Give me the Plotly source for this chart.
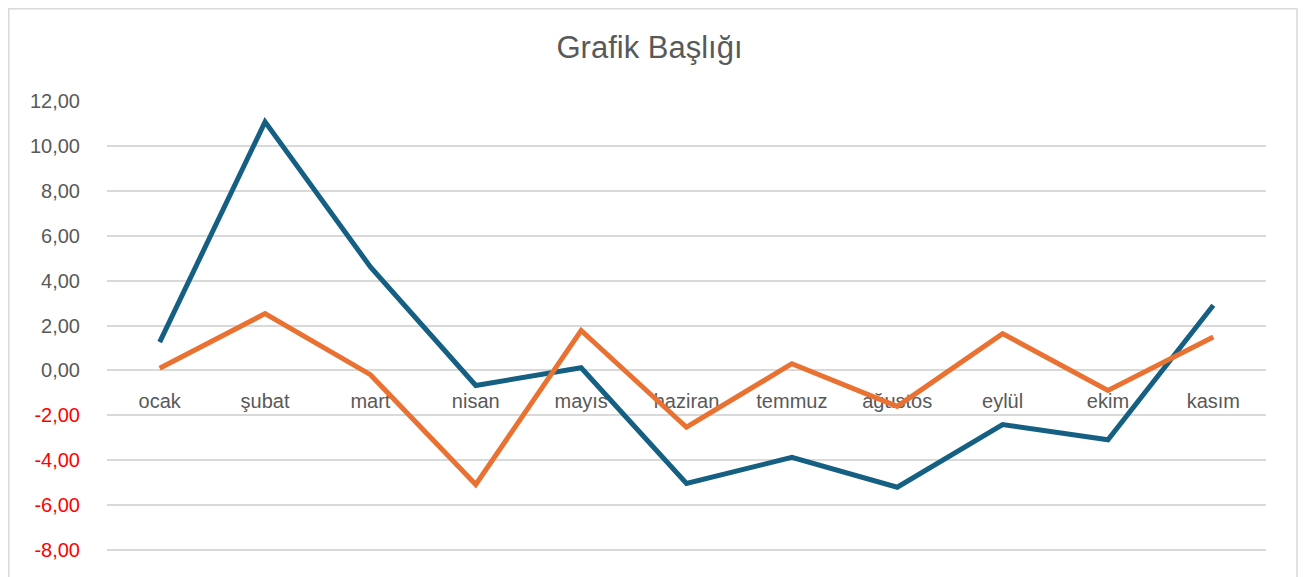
import plotly.graph_objects as go

categories = ["ocak", "şubat", "mart", "nisan", "mayıs", "haziran",
              "temmuz", "ağustos", "eylül", "ekim", "kasım"]
series_blue = [1.26, 11.07, 4.61, -0.67, 0.12, -5.03, -3.87, -5.20, -2.41, -3.09, 2.90]
series_orange = [0.10, 2.53, -0.19, -5.08, 1.78, -2.53, 0.30, -1.60, 1.64, -0.89, 1.49]
tick_values = [12, 10, 8, 6, 4, 2, 0, -2, -4, -6, -8]
title_text = "Grafik Başlığı"

# page has an 8px body margin; compensate so the picture lines up
OFF = 8
W, H = 1309 - OFF, 577 - OFF
ML, MR, MT, MB = 107 - OFF, 43, 101 - OFF, 0
y_range = [-9.2, 12]

def fmt(v):
    s = f"{v:.2f}".replace(".", ",")
    if v < 0:
        return f"<span style='color:#FF0000'>{s}</span>"
    return s

tick_text = [fmt(v) for v in tick_values]

fig = go.Figure()
fig.add_trace(go.Scatter(x=categories, y=series_blue, mode="lines",
                         line=dict(color="#156082", width=5), name="Seri1"))
fig.add_trace(go.Scatter(x=categories, y=series_orange, mode="lines",
                         line=dict(color="#E97132", width=5), name="Seri2"))

zero_pos = (0 - y_range[0]) / (y_range[1] - y_range[0])
plot_w = W - ML - MR
plot_h = H - MT - MB

fig.update_layout(
    width=W, height=H,
    margin=dict(l=ML, r=MR, t=MT, b=MB),
    paper_bgcolor="white", plot_bgcolor="white",
    showlegend=False,
    font=dict(family="Liberation Sans, Arial, sans-serif", color="#595959", size=20),
    title=dict(text=title_text, xref="container", yref="container",
               x=(649.5 - OFF) / W, y=1 - (47 - OFF) / H, xanchor="center", yanchor="middle",
               font=dict(size=31, color="#595959")),
    xaxis=dict(type="category", range=[-0.5, len(categories) - 0.5],
               anchor="free", position=zero_pos, showline=False, showgrid=False,
               ticks="", ticklabelstandoff=17, layer="below traces",
               tickfont=dict(size=20, color="#595959")),
    yaxis=dict(range=y_range, tickvals=tick_values, ticktext=tick_text,
               showgrid=True, gridcolor="#D9D9D9", gridwidth=1.5,
               zeroline=False, showline=False, ticks="",
               ticklabelstandoff=26,
               tickfont=dict(size=20, color="#595959")),
)

# chart-area border (light grey frame)
fig.add_shape(type="rect", xref="paper", yref="paper",
              x0=(0.75 - ML) / plot_w, x1=(1297 - OFF - ML) / plot_w,
              y0=-0.2, y1=(H - MB - 0.75) / plot_h,
              line=dict(color="#D9D9D9", width=1.5), fillcolor="rgba(0,0,0,0)",
              layer="below")

fig.write_html("out.html")
